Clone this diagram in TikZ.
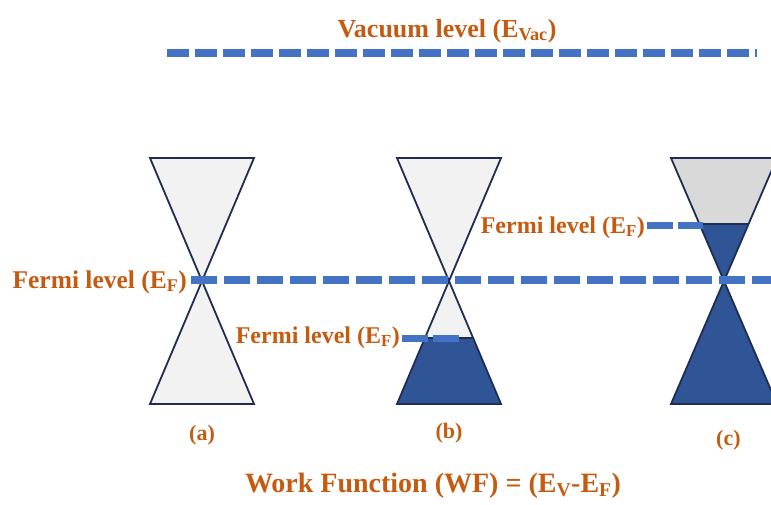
\documentclass[tikz,border=0pt]{standalone}
\usepackage{fontspec}
\setmainfont{Liberation Serif}
\usetikzlibrary{positioning, calc}

\definecolor{levelblue}{HTML}{4472C4}
\definecolor{labelorange}{HTML}{C55A11}
\definecolor{conenavy}{HTML}{1F2D50}
\definecolor{filledband}{HTML}{2F5597}
\definecolor{emptyband}{HTML}{F2F2F2}
\definecolor{emptytop}{HTML}{D9D9D9}

\tikzset{
  level/.style={levelblue, line width=7.5pt, dash pattern=on 26pt off 7pt},
  vaclevel/.style={level, dash pattern=on 22pt off 6pt},
  shortlevel/.style={level, line width=7pt, dash pattern=on 26pt off 5pt},
  lbl/.style={text=labelorange, inner sep=0pt, font=\bfseries\fontsize{24}{24}\selectfont},
  wideLbl/.style={lbl, font=\bfseries\fontsize{25.5}{26}\selectfont},
  biglbl/.style={lbl, font=\bfseries\fontsize{26}{26}\selectfont},
  sublbl/.style={lbl, font=\bfseries\fontsize{22}{22}\selectfont},
  cone/.style={draw=conenavy, line width=1.8pt, line join=miter},
}

\begin{document}
\begin{tikzpicture}[x=1pt, y=-1pt, node distance=20pt]
  \useasboundingbox (0,0) rectangle (771,504);

  % Vacuum level
  \coordinate (vacStart) at (167,53);
  \coordinate (vacEnd) at (757,53);
  \node[biglbl, anchor=base] (vacLbl) at (447,37) {Vacuum level (E\textsubscript{Vac})};
  \draw[vaclevel] (vacStart) -- (vacEnd);

  % Cone (a): empty, E_F at the Dirac point
  \coordinate (apexA) at (202,281);
  \filldraw[cone, fill=emptyband] ($(apexA)+(-52,-123)$) -- ($(apexA)+(52,-123)$)
    -- ($(apexA)+(-52,123)$) -- ($(apexA)+(52,123)$) -- cycle;
  \node[sublbl, below=21pt of {$(apexA)+(0,123)$}] (capA) {(a)};

  % Cone (b): E_F below the Dirac point
  \coordinate (apexB) at (449,281);
  \fill[emptyband] ($(apexB)+(-52,-123)$) -- ($(apexB)+(52,-123)$)
    -- ($(apexB)+(-52,123)$) -- ($(apexB)+(52,123)$) -- cycle;
  \begin{scope}
    \clip ($(apexB)+(-52,-123)$) -- ($(apexB)+(52,-123)$)
      -- ($(apexB)+(-52,123)$) -- ($(apexB)+(52,123)$) -- cycle;
    \filldraw[filledband, draw=conenavy, line width=1.5pt] ($(apexB)+(-60,57)$) rectangle ($(apexB)+(60,130)$);
  \end{scope}
  \draw[cone] ($(apexB)+(-52,-123)$) -- ($(apexB)+(52,-123)$)
    -- ($(apexB)+(-52,123)$) -- ($(apexB)+(52,123)$) -- cycle;
  \node[sublbl, below=19pt of {$(apexB)+(0,123)$}] (capB) {(b)};

  % Cone (c): E_F above the Dirac point
  \coordinate (apexC) at (724,281);
  \fill[filledband] ($(apexC)+(-53,-123)$) -- ($(apexC)+(53,-123)$)
    -- ($(apexC)+(-53,123)$) -- ($(apexC)+(53,123)$) -- cycle;
  \begin{scope}
    \clip ($(apexC)+(-53,-123)$) -- ($(apexC)+(53,-123)$)
      -- ($(apexC)+(-53,123)$) -- ($(apexC)+(53,123)$) -- cycle;
    \filldraw[emptytop, draw=conenavy, line width=1.5pt] ($(apexC)+(-60,-130)$) rectangle ($(apexC)+(60,-57)$);
  \end{scope}
  \draw[cone] ($(apexC)+(-53,-123)$) -- ($(apexC)+(53,-123)$)
    -- ($(apexC)+(-53,123)$) -- ($(apexC)+(53,123)$) -- cycle;
  \node[sublbl, below right=26pt and 0pt of {$(apexC)+(-8,123)$}] (capC) {(c)};

  % Fermi levels
  \coordinate (fermiEnd) at (771,280);
  \node[wideLbl, anchor=base east] (fermiA) at (187,288) {Fermi level (E\textsubscript{F})};
  \draw[level] (fermiA.east |- fermiEnd) ++(4,0) -- (fermiEnd);

  \coordinate (fermiBEnd) at (459,338);
  \node[lbl, anchor=base east] (fermiB) at (400,343) {Fermi level (E\textsubscript{F})};
  \draw[shortlevel] (fermiB.east |- fermiBEnd) ++(2,0) -- (fermiBEnd);

  \coordinate (fermiCEnd) at (703,225);
  \node[lbl, anchor=base east] (fermiC) at (645,233) {Fermi level (E\textsubscript{F})};
  \draw[shortlevel] (fermiC.east |- fermiCEnd) ++(2,0) -- (fermiCEnd);

  % Work function
  \node[lbl, font=\bfseries\fontsize{28}{28}\selectfont, anchor=base] (wfLbl) at (433,492) {Work Function (WF) = (E\textsubscript{V}-E\textsubscript{F})};
\end{tikzpicture}
\end{document}
